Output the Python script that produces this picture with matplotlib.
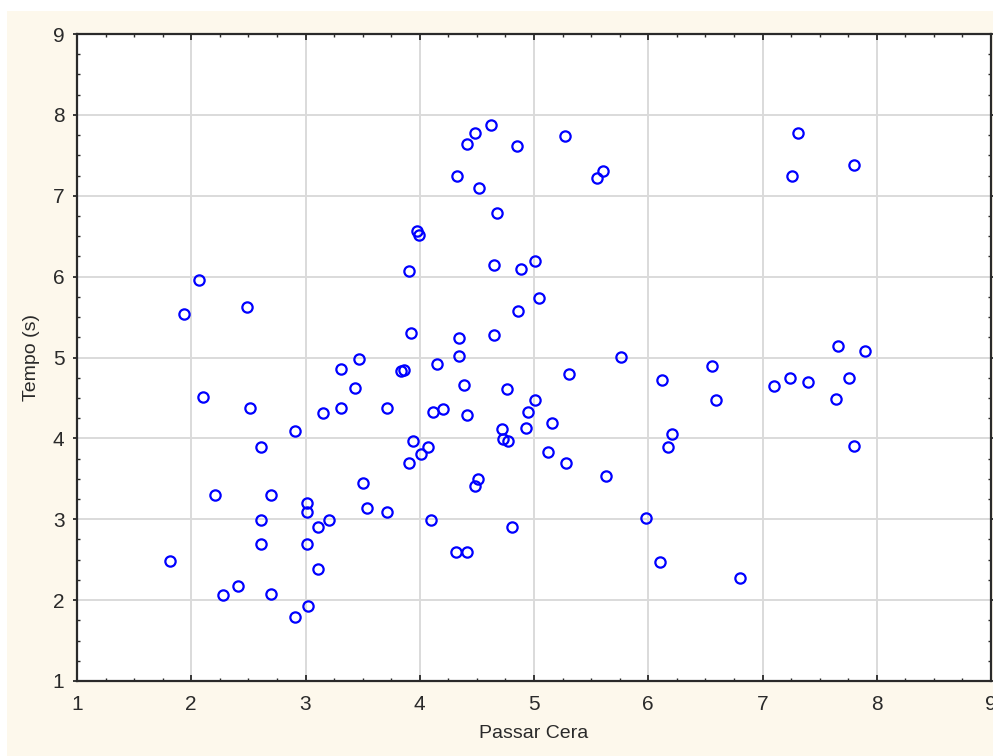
import matplotlib.pyplot as plt
from matplotlib.patches import Rectangle
from matplotlib.ticker import MultipleLocator

passar_cera = [
    1.81, 1.94, 2.07, 2.10, 2.21, 2.28, 2.41, 2.49, 2.51, 2.61,
    2.61, 2.61, 2.70, 2.70, 2.91, 2.91, 3.01, 3.01, 3.01, 3.02,
    3.11, 3.11, 3.15, 3.21, 3.31, 3.31, 3.43, 3.47, 3.50, 3.54,
    3.71, 3.71, 3.84, 3.86, 3.91, 3.91, 3.92, 3.94, 3.98, 3.99,
    4.01, 4.07, 4.10, 4.12, 4.15, 4.20, 4.32, 4.33, 4.34, 4.34,
    4.39, 4.41, 4.41, 4.41, 4.48, 4.48, 4.51, 4.52, 4.62, 4.65,
    4.65, 4.68, 4.72, 4.73, 4.77, 4.76, 4.81, 4.85, 4.86, 4.89,
    4.93, 4.95, 5.01, 5.01, 5.04, 5.12, 5.16, 5.27, 5.28, 5.31,
    5.55, 5.60, 5.63, 5.76, 5.98, 6.10, 6.12, 6.17, 6.21, 6.56,
    6.59, 6.80, 7.10, 7.24, 7.26, 7.31, 7.40, 7.64, 7.66, 7.76,
    7.80, 7.80, 7.90,
]
tempo = [
    2.48, 5.54, 5.96, 4.51, 3.30, 2.06, 2.18, 5.62, 4.38, 3.89,
    2.99, 2.70, 3.30, 2.08, 4.09, 1.79, 3.20, 3.09, 2.70, 1.93,
    2.90, 2.38, 4.31, 2.99, 4.38, 4.86, 4.62, 4.98, 3.45, 3.14,
    4.38, 3.09, 4.83, 4.84, 6.07, 3.69, 5.30, 3.97, 6.57, 6.52,
    3.81, 3.89, 2.99, 4.33, 4.92, 4.36, 2.60, 7.24, 5.24, 5.02,
    4.66, 2.60, 4.29, 7.64, 7.78, 3.41, 3.50, 7.09, 7.88, 6.14,
    5.28, 6.79, 4.11, 3.99, 3.97, 4.61, 2.90, 7.62, 5.58, 6.09,
    4.13, 4.33, 6.19, 4.47, 5.74, 3.83, 4.19, 7.74, 3.69, 4.79,
    7.22, 7.31, 3.53, 5.01, 3.02, 2.47, 4.72, 3.89, 4.05, 4.90,
    4.47, 2.27, 4.65, 4.75, 7.24, 7.78, 4.70, 4.49, 5.14, 4.75,
    7.38, 3.91, 5.08,
]

x_label = "Passar Cera"
y_label = "Tempo (s)"

FONT = ["Liberation Sans", "DejaVu Sans"]
TXT = "#2a2a2a"

fig = plt.figure(figsize=(9.93, 7.56), dpi=100, facecolor="white")
fig.patches.append(Rectangle((7 / 993, 0), 1, 1 - 11 / 756, transform=fig.transFigure,
                             facecolor="#fdf8ec", edgecolor="none", zorder=-10))

ax = fig.add_axes([77 / 993, 1 - 681 / 756, (991 - 77) / 993, (681 - 34) / 756])
ax.set_facecolor("white")

ax.plot(passar_cera, tempo, linestyle="none", marker="o", markersize=7.4,
        markerfacecolor="none", markeredgecolor="#0000ff", markeredgewidth=1.6,
        clip_on=False, zorder=3)

ax.set_xlim(1, 9)
ax.set_ylim(1, 9)
ax.xaxis.set_major_locator(MultipleLocator(1))
ax.yaxis.set_major_locator(MultipleLocator(1))
ax.xaxis.set_minor_locator(MultipleLocator(0.25))
ax.yaxis.set_minor_locator(MultipleLocator(0.25))

ax.grid(True, which="major", color="#dadada", linewidth=1.4, zorder=0)
ax.set_axisbelow(True)

for s in ax.spines.values():
    s.set_color("#2a2a2a")
    s.set_linewidth(1.6)

ax.tick_params(which="both", direction="in", color="#2a2a2a", top=True, right=True)
ax.tick_params(which="major", length=4, width=1.3, labelsize=15, labelcolor=TXT)
ax.tick_params(which="minor", length=2.5, width=1)
ax.tick_params(axis="y", which="major", direction="out", length=3, pad=6)
ax.tick_params(axis="x", which="major", pad=10)

for lab in ax.get_xticklabels() + ax.get_yticklabels():
    lab.set_family(FONT)

ax.set_xlabel(x_label, fontsize=14, family=FONT, color=TXT, labelpad=8)
ax.set_ylabel(y_label, fontsize=14, family=FONT, color=TXT, labelpad=9)

fig.savefig("out.png", dpi=100, facecolor=fig.get_facecolor())
